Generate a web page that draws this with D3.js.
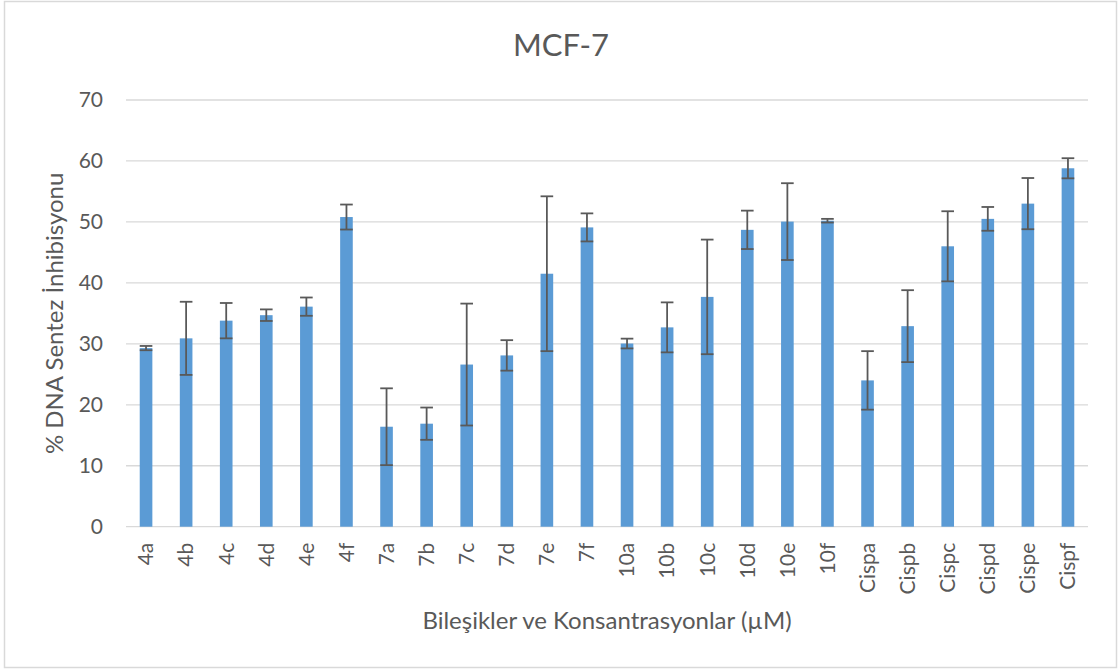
<!DOCTYPE html>
<html>
<head>
<meta charset="utf-8">
<script src="https://cdn.jsdelivr.net/npm/d3@7"></script>
<style>
  html, body { margin: 0; padding: 0; background: #fff; }
  svg { display: block; }
  text { font-family: Lato, "Open Sans", sans-serif; fill: #595959; }
</style>
</head>
<body>
<svg id="chart" width="1120" height="670"></svg>
<script>
// MCF-7: % DNA synthesis inhibition per compound / concentration
const categories = ["4a","4b","4c","4d","4e","4f","7a","7b","7c","7d","7e","7f",
                    "10a","10b","10c","10d","10e","10f",
                    "Cispa","Cispb","Cispc","Cispd","Cispe","Cispf"];
const means  = [29.3, 30.9, 33.8, 34.7, 36.1, 50.8, 16.4, 16.9, 26.6, 28.1, 41.5, 49.1,
                30.05, 32.7, 37.7, 48.7, 50.05, 50.2,
                24.0, 32.9, 46.0, 50.5, 53.0, 58.8];
const errors = [0.35, 6.0, 2.9, 0.95, 1.5, 2.05, 6.3, 2.65, 10.0, 2.5, 12.7, 2.3,
                0.8, 4.1, 9.4, 3.15, 6.3, 0.3,
                4.8, 5.9, 5.75, 1.95, 4.2, 1.65];
const yTicks = [0, 10, 20, 30, 40, 50, 60, 70];

const title = "MCF-7";
const xTitle = "Bileşikler ve Konsantrasyonlar (µM)";
const yTitle = "% DNA Sentez İnhibisyonu";

const svg = d3.select("#chart");
const plot = { left: 126, right: 1088, top: 100, bottom: 526.7 };

// outer chart frame
svg.append("rect")
  .attr("x", 4.5).attr("y", 1.5)
  .attr("width", 1112).attr("height", 666)
  .attr("fill", "#fff")
  .attr("stroke", "#D9D9D9").attr("stroke-width", 1.5);

const x = d3.scaleBand()
  .domain(categories)
  .range([plot.left, plot.right])
  .paddingInner(0.685)
  .paddingOuter(0.3425);

const y = d3.scaleLinear()
  .domain([0, 70])
  .range([plot.bottom, plot.top]);

// horizontal gridlines
svg.append("g")
  .selectAll("line")
  .data(yTicks)
  .join("line")
  .attr("x1", plot.left).attr("x2", plot.right)
  .attr("y1", d => y(d)).attr("y2", d => y(d))
  .attr("stroke", "#D9D9D9").attr("stroke-width", 1.3);

// y axis labels
const yAxis = d3.axisLeft(y).tickValues(yTicks).tickSize(0).tickPadding(23);
const gy = svg.append("g").attr("transform", `translate(${plot.left},0)`).call(yAxis);
gy.select(".domain").remove();
gy.selectAll("text")
  .attr("font-size", 21)
  .attr("font-family", "Lato, sans-serif")
  .attr("fill", "#595959");

// bars
const data = categories.map((c, i) => ({ c, m: means[i], e: errors[i] }));
svg.append("g")
  .selectAll("rect")
  .data(data)
  .join("rect")
  .attr("x", d => x(d.c))
  .attr("width", x.bandwidth())
  .attr("y", d => y(d.m))
  .attr("height", d => y(0) - y(d.m))
  .attr("fill", "#5B9BD5");

// error bars
const capHalf = x.bandwidth() / 2;
const eb = svg.append("g")
  .attr("stroke", "#595959")
  .attr("stroke-width", 1.8)
  .attr("fill", "none");
const ebG = eb.selectAll("g").data(data).join("g")
  .attr("transform", d => `translate(${x(d.c) + x.bandwidth() / 2},0)`);
ebG.append("line")
  .attr("x1", 0).attr("x2", 0)
  .attr("y1", d => y(d.m + d.e)).attr("y2", d => y(d.m - d.e));
ebG.append("line")
  .attr("x1", -capHalf).attr("x2", capHalf)
  .attr("y1", d => y(d.m + d.e)).attr("y2", d => y(d.m + d.e));
ebG.append("line")
  .attr("x1", -capHalf).attr("x2", capHalf)
  .attr("y1", d => y(d.m - d.e)).attr("y2", d => y(d.m - d.e));

// x axis labels, rotated
const xAxis = d3.axisBottom(x).tickSize(0).tickPadding(0);
const gx = svg.append("g").attr("transform", `translate(0,${plot.bottom})`).call(xAxis);
gx.select(".domain").remove();
gx.selectAll("text")
  .attr("font-size", 21)
  .attr("font-family", "Lato, sans-serif")
  .attr("fill", "#595959")
  .attr("text-anchor", "end")
  .attr("dy", "0.35em")
  .attr("dx", 0)
  .attr("transform", "translate(0,16) rotate(-90)")
  .attr("x", 0).attr("y", 0);

// chart title
svg.append("text")
  .attr("x", 561)
  .attr("y", 56)
  .attr("text-anchor", "middle")
  .attr("font-size", 31)
  .text(title);

// axis titles
svg.append("text")
  .attr("x", (plot.left + plot.right) / 2)
  .attr("y", 629)
  .attr("text-anchor", "middle")
  .attr("font-size", 24)
  .text(xTitle);

svg.append("text")
  .attr("transform", `translate(63,${(plot.top + plot.bottom) / 2}) rotate(-90)`)
  .attr("text-anchor", "middle")
  .attr("font-size", 24)
  .text(yTitle);
</script>
</body>
</html>
